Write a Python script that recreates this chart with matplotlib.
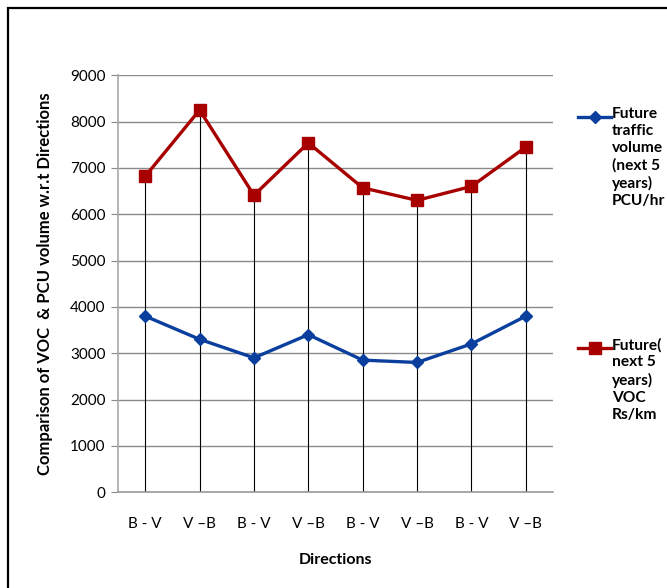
import matplotlib.pyplot as plt
from matplotlib.lines import Line2D
from matplotlib.patches import Rectangle

plt.rcParams['font.family'] = ['Lato', 'DejaVu Sans']

directions = ["B - V", "V \u2013B", "B - V", "V \u2013B", "B - V", "V \u2013B", "B - V", "V \u2013B"]
traffic_pcu = [3800, 3300, 2900, 3400, 2850, 2800, 3200, 3800]
voc_rs = [6820, 8250, 6410, 7540, 6570, 6300, 6600, 7450]

blue = "#0B3F9E"
red = "#A80000"

fig = plt.figure(figsize=(6.67, 5.88), dpi=100)
ax = fig.add_axes([0.177, 0.163, 0.652, 0.709])

x = list(range(len(directions)))

# drop lines from the upper series down to the axis
ax.vlines(x, 0, [max(a, b) for a, b in zip(traffic_pcu, voc_rs)],
          color="black", lw=0.8, zorder=2)

ax.plot(x, traffic_pcu, "-D", color=blue, lw=2.4, markersize=6.5, zorder=4)
ax.plot(x, voc_rs, "-s", color=red, lw=2.4, markersize=9, zorder=4)

ax.set_xlim(-0.5, len(directions) - 0.5)
ax.set_ylim(0, 9000)
ax.set_yticks(range(0, 9001, 1000))
ax.set_xticks(x)
ax.set_xticklabels(directions)
ax.yaxis.grid(True, color="#8a8a8a", lw=1.0)
ax.set_axisbelow(True)
for s in ("top", "right"):
    ax.spines[s].set_visible(False)
ax.spines["left"].set_color("#a8a8a8")
ax.spines["bottom"].set_color("#9a9a9a")
ax.spines["left"].set_linewidth(1.2)
ax.spines["bottom"].set_linewidth(1.2)
ax.tick_params(axis="y", length=5, color="#8a8a8a", labelsize=11, pad=4)
ax.tick_params(axis="x", length=0, labelsize=11, pad=18)

ax.set_xlabel("Directions", fontsize=11.5, fontweight="bold", labelpad=16)
ax.set_ylabel("Comparison of VOC  & PCU volume w.r.t Directions",
              fontsize=12, fontweight="bold", labelpad=12)

# outer chart border
fig.patches.append(Rectangle((8 / 667, -0.1), 1.2, 1 - 8 / 588 + 0.1,
                             transform=fig.transFigure, fill=False,
                             edgecolor="black", lw=1.6))


def legend_entry(y_px, color, marker, ms, text):
    yf = 1 - y_px / 588
    fig.lines.append(Line2D([578 / 667, 611 / 667], [yf, yf],
                            transform=fig.transFigure, color=color, lw=2.4))
    fig.lines.append(Line2D([594.5 / 667], [yf], transform=fig.transFigure,
                            color=color, marker=marker, markersize=ms, lw=0))
    fig.text(612 / 667, yf + 10 / 588, text, fontsize=11.2, fontweight="bold",
             va="top", ha="left", linespacing=1.27)


legend_entry(117, blue, "D", 6.5, "Future\ntraffic\nvolume\n(next 5\nyears)\nPCU/hr")
legend_entry(348, red, "s", 9, "Future(\nnext 5\nyears)\nVOC\nRs/km")

fig.savefig("out.png", dpi=100)
